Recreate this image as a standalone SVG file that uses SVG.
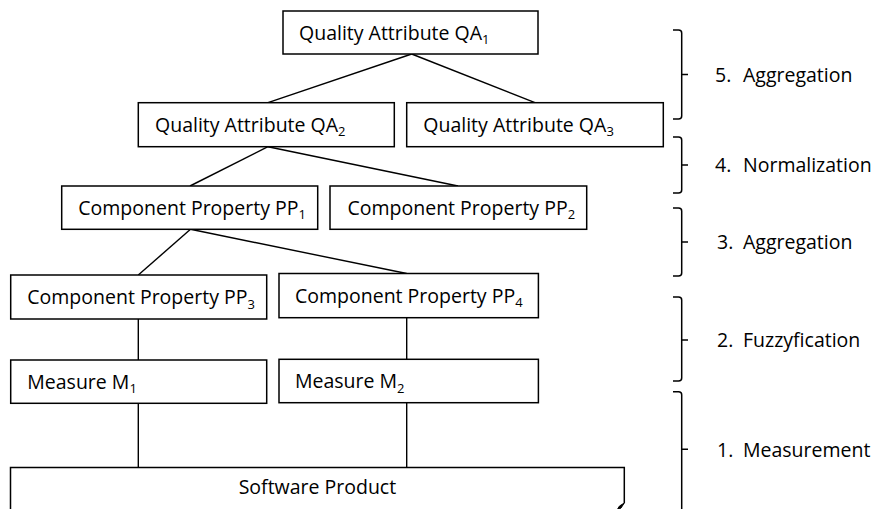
<svg xmlns="http://www.w3.org/2000/svg" width="875" height="509" viewBox="0 0 875 509">
<style>
  .box { fill: #ffffff; stroke: #000000; stroke-width: 1.5; }
  .conn { fill: none; stroke: #000000; stroke-width: 1.4; }
  .brace { fill: none; stroke: #000000; stroke-width: 1.5; }
  text { font-family: "Open Sans", "Noto Sans", "Liberation Sans", sans-serif; font-size: 19.5px; fill: #000000; }
  .sub { font-size: 13px; }
</style>
<rect width="875" height="509" fill="#ffffff"/>

<g id="connectors">
  <line class="conn" x1="411.7" y1="54" x2="268" y2="102.7"/>
  <line class="conn" x1="411.7" y1="54" x2="535" y2="102.7"/>
  <line class="conn" x1="268" y1="146.7" x2="190" y2="186"/>
  <line class="conn" x1="268" y1="146.7" x2="458" y2="186"/>
  <line class="conn" x1="190.5" y1="229.3" x2="138.3" y2="275"/>
  <line class="conn" x1="190.5" y1="229.3" x2="406.7" y2="273.5"/>
  <line class="conn" x1="138.3" y1="319" x2="138.3" y2="360"/>
  <line class="conn" x1="406.7" y1="317.7" x2="406.7" y2="359.3"/>
  <line class="conn" x1="138.3" y1="403.3" x2="138.3" y2="467.5"/>
  <line class="conn" x1="406.7" y1="402.7" x2="406.7" y2="467.5"/>
</g>

<g id="qa1">
  <rect class="box" x="283" y="11" width="255" height="43"/>
  <text x="299" y="39.5">Quality Attribute QA<tspan class="sub" dy="4.5">1</tspan></text>
</g>
<g id="qa2">
  <rect class="box" x="138.3" y="102.7" width="256" height="44"/>
  <text x="155" y="131.7">Quality Attribute QA<tspan class="sub" dy="4.5">2</tspan></text>
</g>
<g id="qa3">
  <rect class="box" x="406.7" y="102.7" width="256.6" height="44"/>
  <text x="423.3" y="131.7">Quality Attribute QA<tspan class="sub" dy="4.5">3</tspan></text>
</g>
<g id="pp1">
  <rect class="box" x="61.7" y="186" width="256" height="43.3"/>
  <text x="78.3" y="214.7">Component Property PP<tspan class="sub" dy="4.5">1</tspan></text>
</g>
<g id="pp2">
  <rect class="box" x="330" y="186" width="256.7" height="43.3"/>
  <text x="347.5" y="214.7">Component Property PP<tspan class="sub" dy="4.5">2</tspan></text>
</g>
<g id="pp3">
  <rect class="box" x="10.7" y="275" width="256" height="44"/>
  <text x="27.3" y="304">Component Property PP<tspan class="sub" dy="4.5">3</tspan></text>
</g>
<g id="pp4">
  <rect class="box" x="279" y="273.5" width="259.4" height="44.2"/>
  <text x="295" y="302.6">Component Property PP<tspan class="sub" dy="4.5">4</tspan></text>
</g>
<g id="m1">
  <rect class="box" x="10.7" y="360" width="256" height="43.3"/>
  <text x="27.3" y="388.7">Measure M<tspan class="sub" dy="4.5">1</tspan></text>
</g>
<g id="m2">
  <rect class="box" x="279" y="359.3" width="259.4" height="43.4"/>
  <text x="295" y="388">Measure M<tspan class="sub" dy="4.5">2</tspan></text>
</g>
<g id="software">
  <path class="box" d="M10.5,515 V467.5 H624.3 V503"/>
  <path d="M624.3,503 L619.5,506 L617,510 L621,508 Z" fill="#000000" stroke="#000000" stroke-width="1"/>
  <text x="317.4" y="494" text-anchor="middle">Software Product</text>
</g>

<g id="step5">
  <path class="brace" d="M673,30 H678.5 Q681.7,30 681.7,33 V116 Q681.7,119 678.5,119 H673 M681.7,74.5 H688"/>
  <text x="715" y="81.5">5.</text>
  <text x="743" y="81.5">Aggregation</text>
</g>
<g id="step4">
  <path class="brace" d="M673,137 H678.5 Q681.7,137 681.7,140 V190 Q681.7,193 678.5,193 H673 M681.7,165 H688"/>
  <text x="715" y="172">4.</text>
  <text x="743" y="172">Normalization</text>
</g>
<g id="step3">
  <path class="brace" d="M673,208 H678.5 Q681.7,208 681.7,211 V273 Q681.7,276 678.5,276 H673 M681.7,242 H688"/>
  <text x="717" y="249">3.</text>
  <text x="743" y="249">Aggregation</text>
</g>
<g id="step2">
  <path class="brace" d="M673,297 H678.5 Q681.7,297 681.7,300 V378 Q681.7,381 678.5,381 H673 M681.7,340 H688"/>
  <text x="717" y="347">2.</text>
  <text x="743" y="347">Fuzzyfication</text>
</g>
<g id="step1">
  <path class="brace" d="M673,391.7 H678.5 Q681.7,391.7 681.7,394.7 V515 M681.7,449.3 H688"/>
  <text x="717" y="456.5">1.</text>
  <text x="743" y="456.5">Measurement</text>
</g>
</svg>
